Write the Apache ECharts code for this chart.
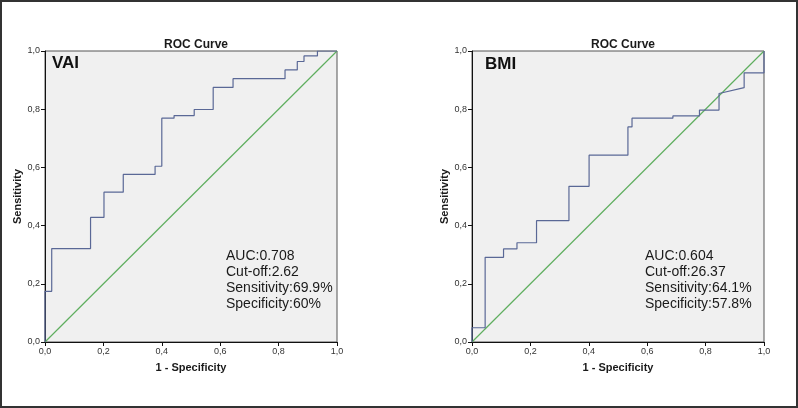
<!DOCTYPE html>
<html>
<head>
<meta charset="utf-8">
<script src="https://cdn.jsdelivr.net/npm/echarts@6/dist/echarts.min.js"></script>
<style>
html,body{margin:0;padding:0;background:#fff;}
#c{width:798px;height:408px;}
</style>
</head>
<body>
<div id="c"></div>
<script>
// ---- data ----
const axisTicks = [0, 0.2, 0.4, 0.6, 0.8, 1.0];
const vaiFpr = [0,0,0.023,0.023,0.156,0.156,0.202,0.202,0.268,0.268,0.377,0.377,0.400,0.400,0.442,0.442,0.511,0.511,0.576,0.576,0.644,0.644,0.822,0.822,0.864,0.864,0.887,0.887,0.933,0.933,1];
const vaiTpr = [0,0.174,0.174,0.321,0.321,0.428,0.428,0.515,0.515,0.576,0.576,0.604,0.604,0.769,0.769,0.778,0.778,0.799,0.799,0.875,0.875,0.905,0.905,0.935,0.935,0.964,0.964,0.983,0.983,1,1];
const bmiFpr = [0,0,0.045,0.045,0.108,0.108,0.154,0.154,0.221,0.221,0.332,0.332,0.401,0.401,0.534,0.534,0.548,0.548,0.688,0.688,0.779,0.779,0.846,0.846,0.932,0.932,1,1];
const bmiTpr = [0,0.049,0.049,0.291,0.291,0.32,0.32,0.341,0.341,0.417,0.417,0.535,0.535,0.642,0.642,0.739,0.739,0.769,0.769,0.777,0.777,0.797,0.797,0.854,0.874,0.925,0.925,1];
const refLine = [[0,0],[1,1]];
const panelNames = ['VAI', 'BMI'];
const vaiStats = ['AUC:0.708', 'Cut-off:2.62', 'Sensitivity:69.9%', 'Specificity:60%'];
const bmiStats = ['AUC:0.604', 'Cut-off:26.37', 'Sensitivity:64.1%', 'Specificity:57.8%'];

// ---- chart ----
const zip = (a, b) => a.map((v, i) => [v, b[i]]);
const fmt = v => v.toFixed(1).replace('.', ',');
const font = '"Liberation Sans", Arial, sans-serif';
const grids = [
  {left: 45, top: 51, width: 292, height: 291},
  {left: 472, top: 51, width: 292, height: 291}
];
function xAx(i){
  return {
    type: 'value', gridIndex: i, min: 0, max: 1, interval: 0.2,
    name: '1 - Specificity', nameLocation: 'middle', nameGap: 20,
    nameTextStyle: {fontFamily: font, fontSize: 11, fontWeight: 'bold', color: '#1a1a1a'},
    axisLine: {show: true, lineStyle: {color: '#111', width: 1}},
    axisTick: {show: true, inside: false, length: 4, lineStyle: {color: '#111'}},
    axisLabel: {formatter: fmt, fontFamily: font, fontSize: 9, color: '#333', margin: 5},
    splitLine: {show: false}
  };
}
function yAx(i){
  return {
    type: 'value', gridIndex: i, min: 0, max: 1, interval: 0.2,
    name: 'Sensitivity', nameLocation: 'middle', nameGap: 22,
    nameTextStyle: {fontFamily: font, fontSize: 11, fontWeight: 'bold', color: '#1a1a1a'},
    axisLine: {show: true, lineStyle: {color: '#111', width: 1}},
    axisTick: {show: true, inside: false, length: 4, lineStyle: {color: '#111'}},
    axisLabel: {formatter: fmt, fontFamily: font, fontSize: 9, color: '#333', margin: 5},
    splitLine: {show: false}
  };
}
function statsText(lines, left){
  return lines.map((t, k) => ({
    type: 'text', left: left, top: 249 + k * 16,
    style: {text: t, font: '14px ' + font, fill: '#1a1a1a'}
  }));
}
const chart = echarts.init(document.getElementById('c'), null, {renderer: 'canvas'});
chart.setOption({
  animation: false,
  backgroundColor: '#ffffff',
  title: [
    {text: 'ROC Curve', left: 191, top: 34, textAlign: 'center', textStyle: {fontFamily: font, fontSize: 12, fontWeight: 'bold', color: '#1a1a1a'}},
    {text: 'ROC Curve', left: 618, top: 34, textAlign: 'center', textStyle: {fontFamily: font, fontSize: 12, fontWeight: 'bold', color: '#1a1a1a'}}
  ],
  grid: grids.map(g => Object.assign({show: true, backgroundColor: '#f0f0f0', borderColor: '#555', borderWidth: 1}, g)),
  xAxis: [xAx(0), xAx(1)],
  yAxis: [yAx(0), yAx(1)],
  series: [
    {type: 'line', xAxisIndex: 0, yAxisIndex: 0, data: refLine, showSymbol: false, lineStyle: {color: '#5fae5f', width: 1.2}},
    {type: 'line', xAxisIndex: 0, yAxisIndex: 0, data: zip(vaiFpr, vaiTpr), showSymbol: false, lineStyle: {color: '#5a6896', width: 1.2}},
    {type: 'line', xAxisIndex: 1, yAxisIndex: 1, data: refLine, showSymbol: false, lineStyle: {color: '#5fae5f', width: 1.2}},
    {type: 'line', xAxisIndex: 1, yAxisIndex: 1, data: zip(bmiFpr, bmiTpr), showSymbol: false, lineStyle: {color: '#5a6896', width: 1.2}}
  ],
  graphic: [
    {type: 'rect', shape: {x: 1, y: 1, width: 796, height: 406}, style: {fill: 'none', stroke: '#333', lineWidth: 2}, silent: true},
    {type: 'text', left: 52, top: 55, style: {text: panelNames[0], font: 'bold 17px ' + font, fill: '#111'}},
    {type: 'text', left: 485, top: 56, style: {text: panelNames[1], font: 'bold 17px ' + font, fill: '#111'}}
  ].concat(statsText(vaiStats, 226), statsText(bmiStats, 645))
});
</script>
</body>
</html>
